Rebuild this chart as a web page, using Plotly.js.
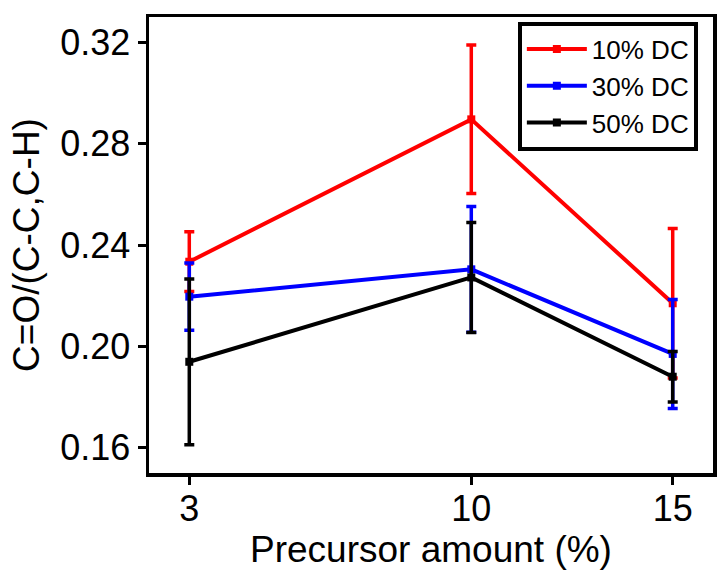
<!DOCTYPE html>
<html>
<head>
<meta charset="utf-8">
<script src="https://cdn.plot.ly/plotly-3.0.1.min.js"></script>
<style>html,body{margin:0;padding:0;background:#fff;}#chart{width:728px;height:583px;}</style>
</head>
<body>
<div id="chart"></div>
<script>
const xValues = [3, 10, 15];
const seriesNames = ["10% DC", "30% DC", "50% DC"];
const y10 = [0.2334, 0.2896, 0.2170];
const err10 = [0.0118, 0.0293, 0.0295];
const y30 = [0.2196, 0.2304, 0.1970];
const err30 = [0.0133, 0.0248, 0.0215];
const y50 = [0.1939, 0.2272, 0.1880];
const err50 = [0.0327, 0.0217, 0.0100];
const yTicks = [0.16, 0.20, 0.24, 0.28, 0.32];
const xTicks = [3, 10, 15];

const colors = ["#ff0000", "#0000ff", "#000000"];
const ys = [y10, y30, y50];
const errs = [err10, err30, err50];

const traces = ys.map((y, i) => ({
  type: "scatter",
  mode: "lines+markers",
  name: seriesNames[i],
  x: xValues,
  y: y,
  line: {color: colors[i], width: 4},
  marker: {color: colors[i], symbol: "square", size: 8},
  error_y: {type: "data", array: errs[i], visible: true, color: colors[i], thickness: 3.5, width: 5}
}));

const font = "Liberation Sans, Arial, sans-serif";
const layout = {
  width: 728, height: 583,
  margin: {l: 149, r: 15, t: 17, b: 110},
  paper_bgcolor: "#fff", plot_bgcolor: "#fff",
  font: {family: font, color: "#000"},
  showlegend: true,
  legend: {
    x: 0.654, y: 0.99, xanchor: "left", yanchor: "top",
    bordercolor: "#000", borderwidth: 4, bgcolor: "#fff",
    font: {family: font, size: 26, color: "#000"},
    itemwidth: 60, tracegroupgap: 0
  },
  xaxis: {
    range: [2, 16], tickvals: xTicks, ticktext: xTicks.map(String),
    showgrid: false, zeroline: false,
    showline: true, linecolor: "#000", linewidth: 3.5, mirror: true,
    ticks: "outside", ticklen: 8, tickwidth: 3, tickcolor: "#000",
    ticklabelstandoff: -7,
    tickfont: {family: font, size: 36, color: "#000"},
    title: {text: "Precursor amount (%)", font: {family: font, size: 37, color: "#000"}, standoff: 2}
  },
  yaxis: {
    range: [0.15, 0.33], tickvals: yTicks, tickformat: ".2f",
    showgrid: false, zeroline: false,
    showline: true, linecolor: "#000", linewidth: 3.5, mirror: true,
    ticks: "outside", ticklen: 8, tickwidth: 3, tickcolor: "#000",
    tickfont: {family: font, size: 36, color: "#000"},
    title: {text: "C=O/(C-C,C-H)", font: {family: font, size: 37, color: "#000"}, standoff: 10}
  }
};
Plotly.newPlot("chart", traces, layout, {displayModeBar: false, staticPlot: true});
</script>
</body>
</html>
